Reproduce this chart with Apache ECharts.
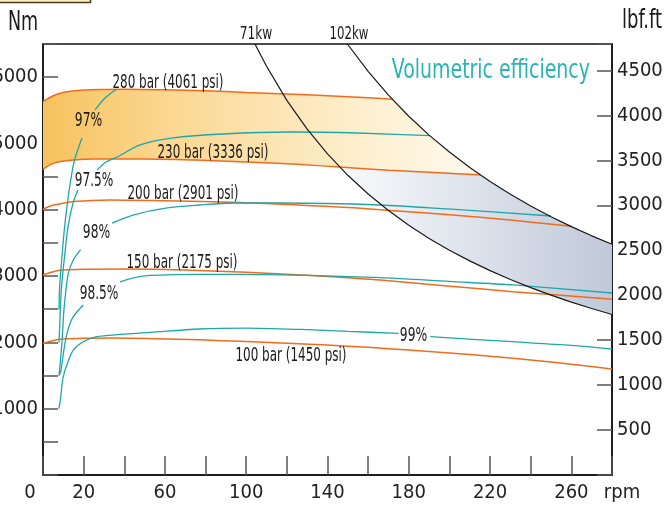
<!DOCTYPE html>
<html><head><meta charset="utf-8">
<script src="https://cdn.jsdelivr.net/npm/echarts@6/dist/echarts.min.js"></script>
<style>html,body{margin:0;padding:0;background:#fff}#c{width:670px;height:506px}</style>
</head><body><div id="c"></div>
<script>
// ---- data (rpm, torque Nm) ----
const bar280 = [[0,5630],[5,5720],[10,5770],[20,5805],[30,5815],[40,5818],[60,5810],[80,5795],[100,5770],[120,5745],[140,5720],[160,5690],[172,5665]];
const bar230 = [[0,4611],[5,4700],[10,4735],[15,4752],[25,4764],[50,4766],[75,4750],[100,4722],[125,4685],[146,4645],[170,4595],[195,4558],[215,4528]];
const bar200 = [[0,4007],[4,4060],[8,4087],[15,4125],[33,4148],[60,4135],[97,4110],[127,4070],[150,4035],[171,3990],[200,3925],[230,3845],[260,3750]];
const bar150 = [[0,3017],[5,3065],[10,3090],[20,3103],[40,3107],[60,3100],[80,3082],[100,3057],[120,3028],[140,2995],[166,2941],[199,2851],[231,2765],[255,2710],[280,2650]];
const bar100 = [[0,1986],[5,2030],[10,2050],[20,2062],[35,2066],[55,2055],[77,2038],[100,2012],[117,1990],[140,1960],[160,1925],[180,1885],[200,1840],[220,1790],[240,1735],[260,1670],[280,1600]];

const eff97  = [[7.9,2500],[8.1,2790],[8.8,3100],[9.6,3394],[10.5,3700],[11.8,4050],[13.4,4400],[15.5,4750],[19.2,5083],[22,null],[25.6,5505],[30.5,5686],[35.9,5815]];
const eff975 = [[7.9,2000],[8.4,2400],[9.0,2790],[9.9,3092],[10.8,3348],[12.3,3741],[14.8,4103],[17.2,4299],[22,null],[26.6,4600],[31,4720],[36.5,4796],[47.8,4977],[64,5083],[88.7,5143],[121.7,5173],[154.7,5158],[190.5,5118]];
const eff98  = [[7.9,1500],[8.6,1734],[9.4,2036],[10.3,2490],[11.3,2790],[12.5,3047],[14.9,3243],[18.5,3400],[25,null],[34,3800],[44.3,3921],[61,4027],[77,4072],[94,4102],[117,4102],[166,4072],[199,4012],[250,3906]];
const eff985 = [[7.9,1500],[8.7,1558],[9.7,1760],[10.8,1986],[12.5,2212],[14.9,2387],[19.8,2564],[28,null],[37.9,2911],[45,2975],[52.7,3010],[77,3027],[117,3017],[166,2976],[200,2919],[231.5,2866],[280,2745]];
const eff99  = [[7.9,1000],[8.8,1196],[9.8,1458],[12,1684],[14.9,1885],[19.8,2010],[26.4,2086],[37.9,2120],[52.7,2150],[77,2202],[100,2215],[127,2195],[150,2165],[175,2137],[182,null],[190.6,2086],[231,2010],[260,1955],[280,1900]];

const kw71  = [[104.3,6500],[110,6164],[120,5650],[130,5215],[140,4843],[150,4520],[160,4238],[170,3988],[180,3767],[190,3568],[200,3390],[210,3229],[220,3082],[230,2948],[240,2825],[250,2712],[260,2608],[270,2511],[280,2421]];
const kw102 = [[149.8,6500],[160,6088],[170,5729],[180,5411],[190,5126],[200,4870],[210,4638],[220,4427],[230,4235],[240,4058],[250,3896],[260,3746],[270,3607],[280,3479]];

const barLabels = ['280 bar (4061 psi)','230 bar (3336 psi)','200 bar (2901 psi)','150 bar (2175 psi)','100 bar (1450 psi)'];
const effLabels = ['97%','97.5%','98%','98.5%','99%'];
const kwLabels = ['71kw','102kw'];
const NM_TO_LBFFT = 0.737562;
const NM_MAX = 6500;

// ---- styling / layout ----
const FONT = "'DejaVu Sans Condensed','Liberation Sans Narrow',sans-serif";
const ORANGE = '#f26b1d', TEAL = '#1ea7a9', INK = '#1a1a1a';

const bandPoly = bar280.concat(kw102.filter(p => p[0] > 172 && p[0] < 215), bar230.slice().reverse());
const bluePoly = bar230.filter(p => p[0] >= 146).concat(kw102.filter(p => p[0] > 215), kw71.filter(p => p[0] > 146).reverse());

function polySeries(poly, grad) {
  return {
    type: 'custom', coordinateSystem: 'cartesian2d', z: 1, silent: true,
    data: [[0, 0]],
    renderItem: function (params, api) {
      return { type: 'polygon', shape: { points: poly.map(p => api.coord(p)) }, style: { fill: grad } };
    }
  };
}
function lineSeries(data, color, width, smooth) {
  return { type: 'line', data: data, showSymbol: false, symbol: 'none', smooth: smooth,
    connectNulls: false, z: 3, silent: true, lineStyle: { color: color, width: width } };
}

const orangeGrad = new echarts.graphic.LinearGradient(0, 0, 1, 0, [
  { offset: 0, color: '#f7c25e' }, { offset: 0.3, color: '#fbd893' }, { offset: 0.65, color: '#fdebc4' }, { offset: 1, color: '#fffaf0' }]);
const blueGrad = new echarts.graphic.LinearGradient(0, 0, 1, 0, [
  { offset: 0, color: '#f9fafc' }, { offset: 1, color: '#c0c9d9' }]);

function txt(text, x, y, size, opts) {
  opts = opts || {};
  return { type: 'text', x: x, y: y, scaleX: opts.sx || 1, z: 10, silent: true,
    style: { text: text, fontSize: size, fontFamily: FONT, fill: opts.color || INK,
      align: opts.align || 'center', verticalAlign: 'middle' } };
}

const labelStyle = { fontSize: 20, fontFamily: FONT, color: '#222' };
const chart = echarts.init(document.getElementById('c'), null, { renderer: 'canvas' });
chart.setOption({
  animation: false,
  backgroundColor: '#fff',
  grid: { left: 43, top: 44, right: 58, bottom: 31, containLabel: false, outerBoundsMode: 'none',
    show: true, borderColor: '#111', borderWidth: 1.5, backgroundColor: 'transparent' },
  xAxis: {
    type: 'value', min: 0, max: 280, interval: 20,
    axisLine: { lineStyle: { color: '#111', width: 1.5 } },
    axisTick: { inside: true, length: 19, lineStyle: { color: '#555', width: 1.5 } },
    splitLine: { show: false },
    axisLabel: Object.assign({}, labelStyle, { margin: 8,
      formatter: function (v) {
        if (v === 0) return '{z|0}';
        if (v === 280) return '{r|rpm}';
        return ((v - 20) % 40 === 0) ? String(v) : '';
      },
      rich: { z: { fontSize: 20, fontFamily: FONT, color: '#222', padding: [0, 26, 0, 0] },
              r: { fontSize: 20, fontFamily: FONT, color: '#222', padding: [0, 0, 0, 20] } } })
  },
  yAxis: [{
    type: 'value', min: 0, max: NM_MAX, interval: 500, position: 'left',
    axisLine: { show: true, lineStyle: { color: '#111', width: 1.5 } },
    axisTick: { show: true, inside: true, length: 15, lineStyle: { color: '#555', width: 1.5 } },
    splitLine: { show: false },
    axisLabel: Object.assign({}, labelStyle, { margin: 5,
      formatter: function (v) { return (v > 0 && v < NM_MAX && v % 1000 === 0) ? String(v) : ''; } })
  }, {
    type: 'value', min: 0, max: NM_MAX * NM_TO_LBFFT, interval: 500, position: 'right',
    axisLine: { show: true, lineStyle: { color: '#111', width: 1.5 } },
    axisTick: { show: true, inside: true, length: 15, lineStyle: { color: '#555', width: 1.5 } },
    splitLine: { show: false },
    axisLabel: Object.assign({}, labelStyle, { margin: 5,
      formatter: function (v) { return (v > 0 && v % 500 === 0) ? String(v) : ''; } })
  }],
  series: [
    polySeries(bandPoly, orangeGrad),
    polySeries(bluePoly, blueGrad),
    lineSeries(bar280, ORANGE, 1.5, 0.3),
    lineSeries(bar230, ORANGE, 1.5, 0.3),
    lineSeries(bar200, ORANGE, 1.5, 0.3),
    lineSeries(bar150, ORANGE, 1.5, 0.3),
    lineSeries(bar100, ORANGE, 1.5, 0.3),
    lineSeries(eff97, TEAL, 1.3, 0.3),
    lineSeries(eff975, TEAL, 1.3, 0.3),
    lineSeries(eff98, TEAL, 1.3, 0.3),
    lineSeries(eff985, TEAL, 1.3, 0.3),
    lineSeries(eff99, TEAL, 1.3, 0.3),
    lineSeries(kw71, INK, 1.2, false),
    lineSeries(kw102, INK, 1.2, false)
  ],
  graphic: [
    { type: 'rect', shape: { x: -5, y: -10, width: 95.5, height: 12.5 }, style: { fill: '#fdf0c4', stroke: '#4a3c1a', lineWidth: 1.5 }, z: 10 },
    txt('Nm', 23, 23, 26, { sx: 0.75 }),
    txt('lbf.ft', 642, 21, 26, { sx: 0.77 }),
    txt('Volumetric efficiency', 590, 71, 26, { color: '#2ab3b5', align: 'right', sx: 0.81 }),
    txt(kwLabels[0], 256, 35, 17, { sx: 0.8 }),
    txt(kwLabels[1], 349, 35, 17, { sx: 0.77 }),
    txt(barLabels[0], 168, 83, 19, { sx: 0.7 }),
    txt(barLabels[1], 213, 153, 19, { sx: 0.7 }),
    txt(barLabels[2], 183, 194, 19, { sx: 0.7 }),
    txt(barLabels[3], 182, 263, 19, { sx: 0.7 }),
    txt(barLabels[4], 291, 356, 19, { sx: 0.7 }),
    txt(effLabels[0], 88.5, 121.5, 19, { sx: 0.72 }),
    txt(effLabels[1], 94, 181.5, 19, { sx: 0.71 }),
    txt(effLabels[2], 96.5, 233.5, 19, { sx: 0.72 }),
    txt(effLabels[3], 99, 294.5, 19, { sx: 0.71 }),
    txt(effLabels[4], 413.5, 336, 19, { sx: 0.72 })
  ]
});
</script></body></html>
